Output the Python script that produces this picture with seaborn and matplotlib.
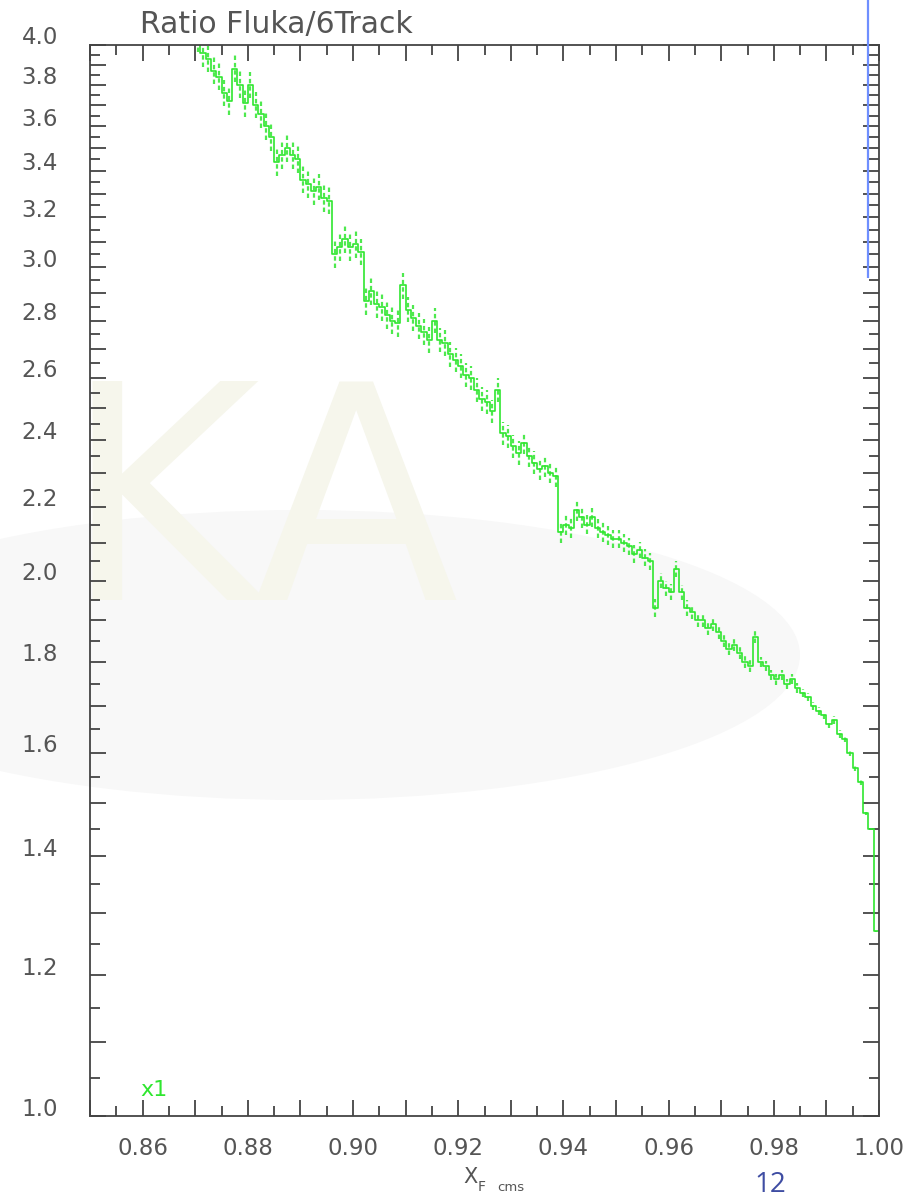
import numpy as np
import pandas as pd
import matplotlib
matplotlib.use("Agg")
import matplotlib.pyplot as plt
import seaborn as sns
from matplotlib.ticker import MultipleLocator, FuncFormatter
from matplotlib.transforms import ScaledTranslation, blended_transform_factory
from matplotlib.patches import Ellipse

# ---- histogram of the Fluka / SixTrack ratio vs x_F (cms) ----
bin_start = 0.870
bin_width = 0.001
ratio = [
    4.03, 3.96, 3.93, 3.87, 3.84, 3.76, 3.72, 3.88, 3.80, 3.71,
    3.80, 3.70, 3.66, 3.60, 3.55, 3.44, 3.47, 3.50, 3.47, 3.45,
    3.36, 3.34, 3.31, 3.33, 3.28, 3.27, 3.05, 3.08, 3.11, 3.08,
    3.09, 3.06, 2.87, 2.91, 2.86, 2.85, 2.82, 2.80, 2.79, 2.93,
    2.84, 2.81, 2.78, 2.76, 2.73, 2.80, 2.73, 2.72, 2.68, 2.66,
    2.64, 2.61, 2.60, 2.56, 2.53, 2.52, 2.49, 2.56, 2.42, 2.41,
    2.38, 2.36, 2.39, 2.35, 2.33, 2.31, 2.32, 2.30, 2.29, 2.13,
    2.15, 2.14, 2.19, 2.17, 2.15, 2.17, 2.14, 2.13, 2.12, 2.11,
    2.11, 2.10, 2.09, 2.07, 2.08, 2.06, 2.05, 1.93, 2.00, 1.98,
    1.97, 2.03, 1.97, 1.93, 1.92, 1.90, 1.90, 1.88, 1.89, 1.87,
    1.85, 1.83, 1.84, 1.82, 1.80, 1.79, 1.86, 1.80, 1.79, 1.77,
    1.76, 1.77, 1.75, 1.76, 1.74, 1.73, 1.72, 1.70, 1.69, 1.68,
    1.66, 1.67, 1.64, 1.63, 1.60, 1.57, 1.54, 1.48, 1.45, 1.27,
]
ratio_err = [
    0.068, 0.070, 0.066, 0.069, 0.067, 0.065, 0.067, 0.069, 0.066, 0.065,
    0.065, 0.063, 0.066, 0.062, 0.063, 0.062, 0.063, 0.061, 0.062, 0.061,
    0.059, 0.058, 0.059, 0.057, 0.058, 0.057, 0.054, 0.055, 0.054, 0.055,
    0.054, 0.053, 0.051, 0.053, 0.050, 0.051, 0.050, 0.049, 0.050, 0.049,
    0.047, 0.047, 0.046, 0.046, 0.045, 0.046, 0.043, 0.045, 0.043, 0.042,
    0.042, 0.041, 0.041, 0.039, 0.039, 0.038, 0.038, 0.039, 0.036, 0.036,
    0.035, 0.036, 0.035, 0.034, 0.034, 0.032, 0.032, 0.031, 0.032, 0.030,
    0.030, 0.028, 0.030, 0.028, 0.027, 0.027, 0.026, 0.027, 0.026, 0.024,
    0.024, 0.024, 0.023, 0.023, 0.022, 0.022, 0.022, 0.023, 0.020, 0.020,
    0.020, 0.020, 0.019, 0.019, 0.018, 0.018, 0.018, 0.016, 0.016, 0.016,
    0.015, 0.015, 0.015, 0.014, 0.014, 0.014, 0.015, 0.012, 0.012, 0.012,
    0.012, 0.011, 0.011, 0.011, 0.011, 0.009, 0.009, 0.009, 0.009, 0.008,
    0.008, 0.008, 0.008, 0.007, 0.007, 0.007, 0.005, 0.003, 0.001, 0.001,
]

x_limits = [0.85, 1.00]
y_limits = [1.0, 4.0]
y_label_values = [1.0, 1.2, 1.4, 1.6, 1.8, 2.0, 2.2, 2.4, 2.6, 2.8,
                  3.0, 3.2, 3.4, 3.6, 3.8, 4.0]
title_text = "Ratio Fluka/6Track"
scale_text = "x1"
page_number = "12"
logo_text = "KA"

# blue marker line seen at the right edge
blue_line_x = 0.9979
blue_line_span = [2.96, 4.4]

green = "#2fe62f"
axis_grey = "#444444"
label_grey = "#555555"

sns.set_style("ticks")
plt.rcParams["font.family"] = ["DejaVu Sans"]

W, H = 910, 1202
fig = plt.figure(figsize=(W / 100, H / 100), dpi=100)
fig.patch.set_facecolor("white")

def fx(px):
    return px / W

def fy(py):
    return 1 - py / H

# faint logo watermark in the background
fig.patches.append(Ellipse((fx(300), fy(655)), fx(1000), fy(0) - fy(290),
                           transform=fig.transFigure, facecolor="#f8f8f8",
                           edgecolor="none", zorder=-3))
fig.text(fx(62), fy(600), logo_text, fontsize=216, color="#f6f6ec",
         ha="left", va="baseline", zorder=-2)

ax = fig.add_axes([fx(90), fy(1116), fx(879) - fx(90), fy(45) - fy(1116)])
ax.set_facecolor("none")

edges = np.round(bin_start + bin_width * np.arange(len(ratio) + 1), 4)
centers = (edges[:-1] + edges[1:]) / 2
vals = np.array(ratio)
errs = np.array(ratio_err)

# error bars drawn as broken vertical strokes, step histogram on top
ax.vlines(centers, vals - errs, vals + errs, colors=green,
          linestyles=(0, (2.0, 1.3)), lw=1.6, alpha=0.85)
df = pd.DataFrame({"xf": edges, "ratio": list(vals) + [vals[-1]]})
sns.lineplot(data=df, x="xf", y="ratio", drawstyle="steps-post", color=green,
             lw=1.2, ax=ax, estimator=None, sort=False, legend=False)

ax.set_yscale("log")
ax.set_xlim(*x_limits)
ax.set_ylim(*y_limits)

ax.xaxis.set_major_locator(MultipleLocator(0.01))
ax.xaxis.set_minor_locator(MultipleLocator(0.005))
ax.xaxis.set_major_formatter(
    FuncFormatter(lambda v, p: f"{v:.2f}" if round(v * 100) % 2 == 0 else ""))
ax.yaxis.set_major_locator(MultipleLocator(0.1))
ax.yaxis.set_minor_locator(MultipleLocator(0.05))
ax.yaxis.set_major_formatter(FuncFormatter(lambda v, p: ""))
ax.yaxis.set_minor_formatter(FuncFormatter(lambda v, p: ""))

ax.tick_params(which="both", direction="in", top=True, right=True,
               color=axis_grey, width=1.3)
ax.tick_params(which="major", length=11.5)
ax.tick_params(which="minor", length=7.2)
ax.tick_params(axis="x", labelsize=16.5, labelcolor=label_grey, pad=15)
ax.tick_params(axis="y", labelleft=False)
for s in ax.spines.values():
    s.set_color(axis_grey)
    s.set_linewidth(1.3)
ax.set_xlabel("")
ax.set_ylabel("")

# y labels every 0.2, sitting slightly above their ticks
ylab_tr = blended_transform_factory(ax.transAxes, ax.transData) + \
    ScaledTranslation(-0.32, 0.07, fig.dpi_scale_trans)
for v in y_label_values:
    ax.text(0, v, f"{v:.1f}", transform=ylab_tr, ha="right", va="center",
            fontsize=16.5, color=label_grey)

ax.text(0.8595, 1.026, scale_text, color=green, fontsize=16, va="baseline",
        ha="left")

ax.vlines([blue_line_x], blue_line_span[0], blue_line_span[1], colors="#6f8fff",
          lw=1.6, clip_on=False, zorder=5)

fig.text(fx(140), fy(33), title_text, fontsize=21.5, color=label_grey,
         va="baseline", ha="left")

fig.text(fx(463), fy(1183), "X", fontsize=15, color=label_grey, va="baseline")
fig.text(fx(478), fy(1191), "F", fontsize=10, color=label_grey, va="baseline")
fig.text(fx(497), fy(1191), "cms", fontsize=9.5, color=label_grey, va="baseline")

fig.text(fx(754), fy(1192), page_number, fontsize=20, color="#3f4da3",
         va="baseline", ha="left",
         family=["Liberation Sans Narrow", "Open Sans", "DejaVu Sans"])

fig.savefig("out.png", dpi=100, facecolor="white")
